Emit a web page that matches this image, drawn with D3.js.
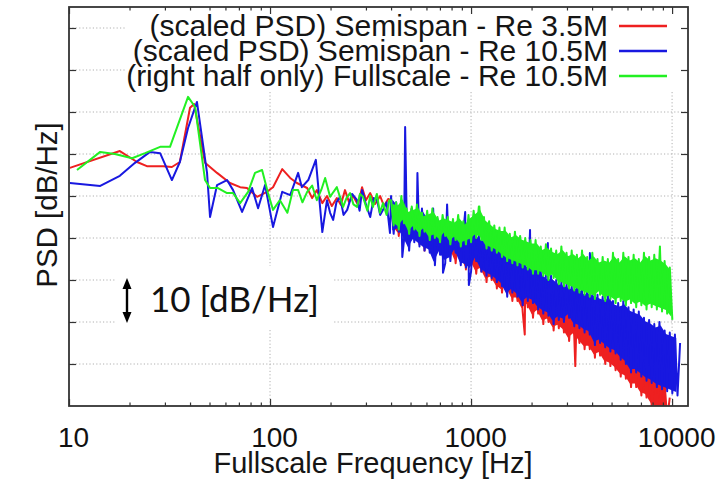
<!DOCTYPE html>
<html><head><meta charset="utf-8">
<script src="https://cdn.jsdelivr.net/npm/d3@7"></script>
<style>html,body{margin:0;padding:0;background:#fff;} svg{display:block}</style>
</head><body>
<svg id="chart" width="721" height="484"></svg>
<script>
// ---------------- DATA ----------------
const seriesNames = [
  "(scaled PSD) Semispan - Re 3.5M",
  "(scaled PSD) Semispan - Re 10.5M",
  "(right half only) Fullscale - Re 10.5M"
];
const seriesColors = ["#ee2020", "#1818e0", "#22f022"];

const xTickValues = [10, 100, 1000, 10000];
const xTickLabels = ["10", "100", "1000", "10000"];
const xMinorTicks = [20,30,40,50,60,70,80,90,200,300,400,500,600,700,800,900,2000,3000,4000,5000,6000,7000,8000,9000];
const xGridValues = [100, 1000, 10000];
const yGridValues = [10, 20, 30, 40, 50, 60, 70, 80, 90]; // dB, one grid step = 10 dB/Hz

// low-frequency part (individual spectral points): frequency [Hz], PSD [dB/Hz, relative]
const redLowF = [10.1,17.9,21.8,24.4,29.4,32.5,35.6,40.0,41.9,44.8,47.5,54.5,63.2,71.0,76.8,86.2,96.6,103.5,115,126,136,153,162,171,182,192,203,215,225,236,247,259,274,287,300,315,333,353,369,387];
const redLowV = [56.7,60.7,58.1,57.1,57.1,56.9,58.1,71.0,71.9,64.5,57.9,55.5,53.1,52.1,51.9,49.8,51.0,52.1,56.4,54.3,53.1,51.9,49.5,51.4,48.3,50.0,47.6,49.5,47.9,51.4,48.6,50.0,47.9,52.1,49.0,50.7,48.1,50.0,47.6,49.3];

const blueLowF = [10.1,14.3,17.9,21.3,25.3,28.4,32.5,35.6,39.1,43.3,48.6,50.3,54.5,61.1,65.5,72.6,81.4,87.2,94.5,103.5,115,126,138,144,155,169,182,192,199,206,214,223,232,242,256,271,279,287,300,315,328,341,353,365,380,395];
const blueLowV = [53.1,52.4,54.8,57.9,60.5,60.2,53.8,58.1,66.2,72.4,55.5,45.0,52.6,53.8,51.4,46.2,51.9,47.1,52.6,42.6,51.0,50.2,55.5,52.1,53.8,58.6,41.4,49.0,46.0,44.3,48.5,49.8,45.5,46.7,50.5,49.0,46.5,51.4,48.0,45.0,49.5,49.0,45.5,46.7,48.5,41.2];

const greenLowF = [10.96,14.3,16.9,20.6,23.9,28.4,31.8,39.1,42.4,47.5,50.3,55.1,61.1,65.5,71.0,77.8,84.2,91.3,97.7,103.5,112,122,130,138,145,153,162,171,180,188,199,207,215,231,240,250,260,271,280,290,305,315,325,340,352,365,380,392];
const greenLowV = [56.2,60.5,60.0,59.0,60.2,61.7,61.7,73.6,71.2,53.8,51.9,51.9,50.7,50.7,48.3,51.0,55.5,56.2,50.7,46.7,49.0,46.0,51.4,51.4,48.5,51.0,52.5,49.0,51.5,54.3,49.8,51.0,52.1,47.4,49.5,50.7,48.0,47.4,50.5,49.8,46.5,50.0,47.4,50.5,46.0,48.3,45.5,49.0];

// high-frequency part (dense noisy band): shared frequency list [Hz]
const fHigh = [400,412,424,437,450,464,478,492,507,522,
  538,554,570,587,605,623,642,661,681,701,
  722,744,766,789,813,838,863,889,915,943,
  971,1000,1030,1061,1093,1126,1159,1194,1230,1267,
  1305,1344,1384,1426,1469,1513,1558,1605,1653,1702,
  1754,1806,1860,1916,1974,2033,2094,2157,2221,2288,
  2357,2427,2500,2575,2652,2732,2814,2898,2985,3075,
  3167,3262,3360,3461,3565,3671,3782,3895,4012,4132,
  4256,4384,4515,4651,4790,4934,5082,5235,5392,5553,
  5720,5891,6068,6250,6438,6631,6830,7035,7246,7463,
  7687,7918,8155,8400,8652,8911,9179,9454,9738,10030,
  10331,10641,10960];

const redHighV = [49,42,47.5,40.5,48.5,42,46,39,47,40.5,
  44.5,38.5,46,37,43.5,39.5,45,36,42.5,37.5,
  44,35,41.5,37,42.5,34,40.5,35.5,41,32.5,
  39.5,34,40.5,31.5,38.5,32,38,29.5,38.5,30,
  36.5,28,37,27,35,27.5,34.5,25,33,25,
  33.5,22.5,31,23.5,31.5,21,29.5,22,30,19.5,
  28.5,20,27.5,18,28,18.5,25.5,17.5,26.5,15.5,
  25,16.5,24,15,24.5,13.5,22,13.5,23,11.5,
  21,12,20.5,10,19.5,9.5,17.5,8.5,17.5,7,
  16,6.5,15,4.5,13.5,4.5,12.5,2.5,11,2,
  10,0,8.5,-1,7.5,-2,5.5,-3,2];

const blueHighV = [50,41,48.5,41.5,48,39.5,46,37,47,39,
  46.5,38,47,37,45,36.5,44,33.5,44.5,36,
  43,34,43.5,34.5,42.5,36.5,42,33.5,41.5,33,
  41,32,41.5,34.5,40.5,32,40,31,39.5,30.5,
  38.5,29.5,38,28.5,37,26,36.5,27,37.5,26,
  35,24,34,25,33.5,24.5,34.5,23,32,22,
  31,21.5,31,19.5,30,20.5,29.5,20,29,21,
  28.5,19,29,18.5,27.5,17.5,27.5,17,27,14.5,
  26.5,15,26,14,26.5,13,25,12.5,24.5,11,
  25,10,23.5,8,23,8,22.5,7,21,6,
  20.5,5.5,19.5,4.5,20,4,18,3.5,17.5,3,
  17,2.5,15];

const greenHighV = [49,43,48.5,42,50,43.5,47,41,47.5,42,
  48,40.5,46,41.5,46.5,39.5,47,40,45,39,
  45.5,40.5,45,38.5,44.5,39.5,45.5,38,44,38.5,
  45.5,39,46.5,40,47.5,39.5,45,37.5,44,37,
  43,36.5,42.5,35.5,42.5,34.5,41,34,41.5,33.5,
  40.5,33,40,32.5,39.5,31.5,39.5,31.5,38,31,
  38.5,30,37.5,30.5,37,29,38,28.5,36.5,28,
  37,27.5,36,27,37,26.5,35.5,26,36.5,25.5,
  35,26.5,35.5,25,35,25.5,36.5,24.5,35,25,
  36.5,24,35.5,24.5,36,23.5,35,24,36.5,23,
  35.5,23.5,36,23,35.5,22.5,34.5,22,33,20.5];

// isolated narrow peaks / dips inside the dense part: [frequency Hz, PSD dB]
const redSpikes = [[1850, 17], [3300, 9.5]];
const blueSpikes = [[455, 35.5], [470, 66.4], [541, 55.5], [648, 47], [725, 31.7], [760, 48], [935, 46.2], [975, 28.8], [1965, 41.9], [2410, 38.8], [3900, 36.4]];
const greenSpikes = [[1100, 47.5], [8700, 38]];

// ---------------- CHART ----------------
const svg = d3.select("#chart");
const FONT = "'Liberation Sans', Arial, Helvetica, sans-serif";
const plot = {left: 69, right: 688, top: 7, bottom: 406};

const x = d3.scaleLog().domain([10, 12000]).range([plot.left, plot.right]);
const y = d3.scaleLinear().domain([0, 95]).range([plot.bottom, plot.top]);

function build(lowF, lowV, highV, spikes) {
  const high = highV.map((v, i) => [fHigh[i], v]);
  const all = lowF.map((f, i) => [f, lowV[i]]).concat(high, spikes)
    .sort((a, b) => a[0] - b[0]);
  // dense band core from consecutive pairs of the high-frequency points
  const band = [];
  for (let k = 0; k + 1 < high.length; k += 2) {
    const a = high[k], b = high[k + 1];
    band.push({f: Math.sqrt(a[0] * b[0]), hi: Math.max(a[1], b[1]), lo: Math.min(a[1], b[1])});
  }
  return {line: all, band};
}
const series = [
  build(redLowF, redLowV, redHighV, redSpikes),
  build(blueLowF, blueLowV, blueHighV, blueSpikes),
  build(greenLowF, greenLowV, greenHighV, greenSpikes)
];

svg.append("rect").attr("width", 721).attr("height", 484).attr("fill", "#fff");

// grid
const grid = svg.append("g").attr("stroke", "#b0b0b0").attr("stroke-width", 1).attr("stroke-dasharray", "1.2,2.2");
grid.selectAll("line.gh").data(yGridValues).join("line").attr("class", "gh")
  .attr("x1", plot.left).attr("x2", plot.right).attr("y1", d => y(d)).attr("y2", d => y(d));
grid.selectAll("line.gv").data(xGridValues).join("line").attr("class", "gv")
  .attr("x1", d => x(d)).attr("x2", d => x(d)).attr("y1", plot.top).attr("y2", plot.bottom);

// opaque key box and annotation box
svg.append("rect").attr("x", 125).attr("y", plot.top + 1).attr("width", plot.right - 126).attr("height", 83).attr("fill", "#fff");
svg.append("rect").attr("x", 116).attr("y", 266).attr("width", 216).attr("height", 64).attr("fill", "#fff");

// clip
svg.append("clipPath").attr("id", "clip").append("rect")
  .attr("x", plot.left).attr("y", plot.top).attr("width", plot.right - plot.left).attr("height", plot.bottom - plot.top);

const line = d3.line().x(d => x(d[0])).y(d => y(d[1]));
const inset = 3.5;
const area = d3.area().x(d => x(d.f))
  .y0(d => { const a = y(d.lo), b = y(d.hi); return Math.max(a - inset, (a + b) / 2); })
  .y1(d => { const a = y(d.lo), b = y(d.hi); return Math.min(b + inset, (a + b) / 2); });
const dataG = svg.append("g").attr("clip-path", "url(#clip)");
series.forEach((s, i) => {
  dataG.append("path").attr("d", area(s.band)).attr("fill", seriesColors[i]).attr("stroke", "none");
  dataG.append("path").attr("d", line(s.line)).attr("fill", "none")
    .attr("stroke", seriesColors[i]).attr("stroke-width", 2).attr("stroke-linejoin", "round");
});

// legend
const key = svg.append("g");
seriesNames.forEach((name, i) => {
  const by = 36 + i * 25;
  key.append("text").attr("x", 608).attr("y", by).attr("text-anchor", "end")
    .attr("font-family", FONT).attr("font-size", 30).attr("fill", "#151515").text(name);
  key.append("line").attr("x1", 619).attr("x2", 667).attr("y1", by - 10).attr("y2", by - 10)
    .attr("stroke", seriesColors[i]).attr("stroke-width", 2.4);
});

// axes (ticks inward)
function styleAxis(g) {
  g.select(".domain").remove();
  g.selectAll(".tick line").attr("stroke", "#333").attr("stroke-width", 1.2);
}
svg.append("g").attr("transform", `translate(0,${plot.bottom})`)
  .call(d3.axisBottom(x).tickValues(xMinorTicks).tickSize(-3.5).tickFormat(""))
  .call(styleAxis);
svg.append("g").attr("transform", `translate(0,${plot.top})`)
  .call(d3.axisTop(x).tickValues(xMinorTicks).tickSize(-3.5).tickFormat(""))
  .call(styleAxis);
svg.append("g").attr("transform", `translate(0,${plot.top})`)
  .call(d3.axisTop(x).tickValues(xTickValues).tickSize(-7).tickFormat(""))
  .call(styleAxis);
const xAxis = svg.append("g").attr("transform", `translate(0,${plot.bottom})`)
  .call(d3.axisBottom(x).tickValues(xTickValues).tickSizeInner(-7).tickSizeOuter(0).tickPadding(21)
    .tickFormat((d, i) => xTickLabels[i]))
  .call(styleAxis);
xAxis.selectAll(".tick text").attr("x", 4).attr("font-family", FONT).attr("font-size", 28).attr("fill", "#111");

svg.append("g").attr("transform", `translate(${plot.left},0)`)
  .call(d3.axisLeft(y).tickValues(yGridValues).tickSize(-7).tickFormat(""))
  .call(styleAxis);
svg.append("g").attr("transform", `translate(${plot.right},0)`)
  .call(d3.axisRight(y).tickValues(yGridValues).tickSize(-7).tickFormat(""))
  .call(styleAxis);

// frame
svg.append("rect").attr("x", plot.left).attr("y", plot.top)
  .attr("width", plot.right - plot.left).attr("height", plot.bottom - plot.top)
  .attr("fill", "none").attr("stroke", "#333").attr("stroke-width", 1.8);

// axis titles
svg.append("text").attr("x", 373).attr("y", 473).attr("text-anchor", "middle")
  .attr("font-family", FONT).attr("font-size", 29).attr("fill", "#151515").text("Fullscale Frequency [Hz]");
svg.append("text").attr("transform", "translate(57,205) rotate(-90)").attr("text-anchor", "middle")
  .attr("font-family", FONT).attr("font-size", 29.5).attr("fill", "#151515").text("PSD [dB/Hz]");

// 10 dB/Hz annotation
const ax = 127, ay1 = y(30), ay2 = y(20);
const ann = svg.append("g").attr("fill", "#000").attr("stroke", "#000");
ann.append("line").attr("x1", ax).attr("x2", ax).attr("y1", ay1 + 6).attr("y2", ay2 - 6).attr("stroke-width", 2.4);
ann.append("path").attr("stroke", "none")
  .attr("d", `M${ax},${ay1 - 2} L${ax - 4.5},${ay1 + 9} L${ax + 4.5},${ay1 + 9} Z`);
ann.append("path").attr("stroke", "none")
  .attr("d", `M${ax},${ay2 + 1} L${ax - 4.5},${ay2 - 10} L${ax + 4.5},${ay2 - 10} Z`);
svg.append("text").attr("x", 150).attr("y", 312)
  .attr("font-family", "Lato, 'Open Sans', sans-serif").attr("font-size", 35).attr("fill", "#111")
  .text("10 [dB/Hz]");
</script>
</body></html>
